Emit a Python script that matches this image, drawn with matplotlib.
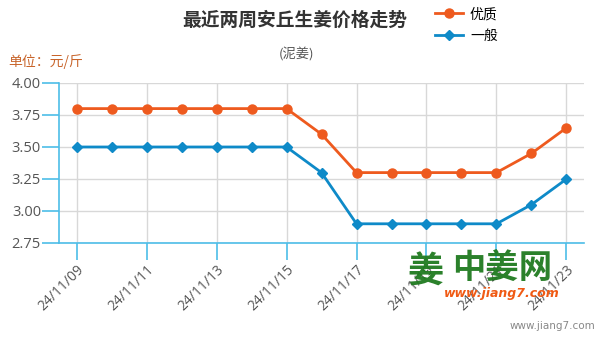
import matplotlib.pyplot as plt
import numpy as np

plt.rcParams['font.family'] = ['Noto Sans CJK SC', 'DejaVu Sans']

dates = ["24/11/09", "24/11/10", "24/11/11", "24/11/12", "24/11/13",
         "24/11/14", "24/11/15", "24/11/16", "24/11/17", "24/11/18",
         "24/11/19", "24/11/20", "24/11/21", "24/11/22", "24/11/23"]
good = [3.8, 3.8, 3.8, 3.8, 3.8, 3.8, 3.8, 3.6, 3.3, 3.3, 3.3, 3.3, 3.3, 3.45, 3.65]
normal = [3.5, 3.5, 3.5, 3.5, 3.5, 3.5, 3.5, 3.3, 2.9, 2.9, 2.9, 2.9, 2.9, 3.05, 3.25]
yticks = [2.75, 3.00, 3.25, 3.50, 3.75, 4.00]

orange = "#ee5a1e"
blue = "#0e8ac8"
axis_blue = "#4dbde8"

fig = plt.figure(figsize=(6.01, 3.4), dpi=100)
ax = fig.add_axes([0.0982, 0.2853, 0.8735, 0.4706])

x = np.arange(len(dates))
ax.plot(x, good, color=orange, lw=2, marker="o", ms=6.5, label="优质", zorder=3)
ax.plot(x, normal, color=blue, lw=2, marker="D", ms=5, label="一般", zorder=3)

ax.set_xlim(-0.5, len(dates) - 0.5)
ax.set_ylim(2.75, 4.0)
ax.set_yticks(yticks)
ax.set_yticklabels([f"{v:.2f}" for v in yticks], fontsize=10.5, family="Open Sans")
ax.set_xticks(x[::2])
ax.set_xticklabels(dates[::2], rotation=45, ha="right", rotation_mode="anchor",
                   fontsize=10, family="Open Sans")

ax.grid(True, color="#d8d8d8", lw=1)
ax.set_axisbelow(True)
for s in ["top", "right"]:
    ax.spines[s].set_visible(False)
for s in ["left", "bottom"]:
    ax.spines[s].set_color(axis_blue)
    ax.spines[s].set_linewidth(1.2)
ax.tick_params(axis="both", colors=axis_blue, length=12, width=1.2, direction="out")
ax.tick_params(axis="y", labelcolor="#555555", pad=1)
ax.tick_params(axis="x", labelcolor="#555555", pad=2)

fig.text(0.49, 0.94, "最近两周安丘生姜价格走势", ha="center", va="center",
         fontsize=13.5, fontweight="bold", color="#333333")
fig.text(0.494, 0.84, "(泥姜)", ha="center", va="center", fontsize=9.5, color="#555555")
fig.text(0.013, 0.818, "单位：元/斤", ha="left", va="center", fontsize=10, color="#c8642a")

fig.legend(loc="upper left", bbox_to_anchor=(0.715, 0.995), frameon=False,
           fontsize=10, handlelength=2, handletextpad=0.5, labelspacing=0.55,
           borderaxespad=0)

# watermark
fig.text(0.708, 0.2, "姜", ha="center", va="center", fontsize=26,
         fontweight="bold", color="#1f7a1f", alpha=0.95)
fig.text(0.835, 0.21, "中姜网", ha="center", va="center", fontsize=24,
         fontweight="bold", color="#1f7a1f", alpha=0.95)
fig.text(0.835, 0.138, "www.jiang7.com", ha="center", va="center", fontsize=9,
         fontweight="bold", style="italic", color="#f05a14", family="DejaVu Sans")
fig.text(0.99, 0.04, "www.jiang7.com", ha="right", va="center", fontsize=7.5,
         color="#888888", family="DejaVu Sans")

fig.savefig("out.png", dpi=100)
